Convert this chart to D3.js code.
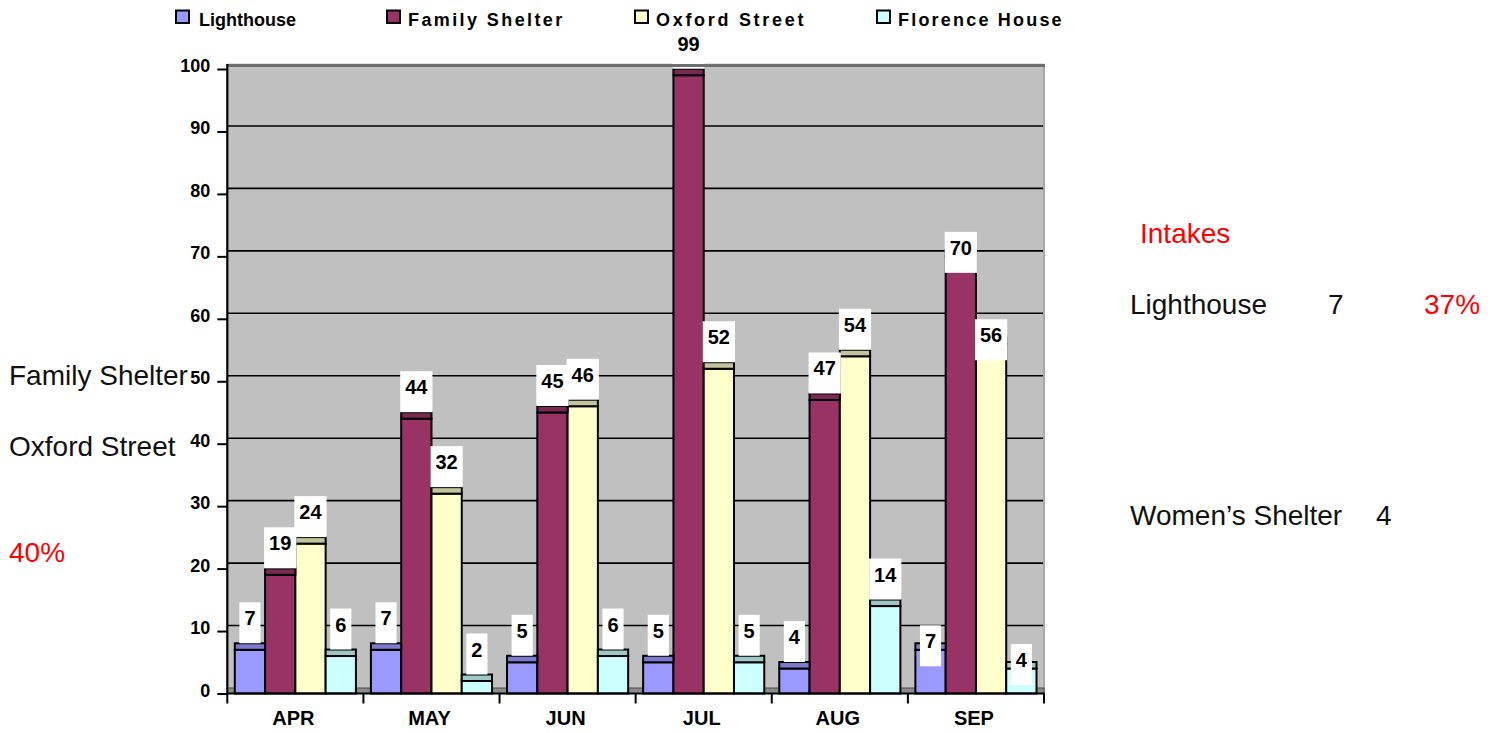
<!DOCTYPE html>
<html><head><meta charset="utf-8">
<script src="https://cdn.jsdelivr.net/npm/d3@7"></script>
<style>body{margin:0;background:#fff;} svg{display:block;}</style>
</head><body>
<svg id="chart" width="1499" height="733"></svg>
<script>
// ---- data ----
const months = ["APR","MAY","JUN","JUL","AUG","SEP"];
const seriesNames = ["Lighthouse","Family Shelter","Oxford Street","Florence House"];
const lighthouse = [7,7,5,5,4,7];
const familyShelter = [19,44,45,99,47,70];
const oxfordStreet = [24,32,46,52,54,56];
const florenceHouse = [6,2,6,5,14,4];
const yTickValues = [0,10,20,30,40,50,60,70,80,90,100];
const leftNotes = ["Family Shelter","Oxford Street","40%"];
const intakesTitle = "Intakes";
const intakeLabels = ["Lighthouse","Women’s Shelter"];
const intakeCounts = ["7","4"];
const intakeShares = ["37%",""];

// ---- styles / layout ----
const seriesValues = [lighthouse, familyShelter, oxfordStreet, florenceHouse];
const faceColors = ["#9999ff","#993366","#ffffcc","#ccffff"];
const capColors  = ["#7b7bd0","#7a2952","#c4c49c","#9cc8c8"];
const legendX = [176, 387, 635, 877];
const legendSpacing = [0, 2.4, 2.7, 2.2];
const backOffset = 5.5;   // 3D depth of the back wall
const capH = 6.5;         // 3D top of columns
const lastLabelDrop = 23; // labels of last month are drawn lower in the original

const svg = d3.select("#chart");
const FONT = "'Liberation Sans', Arial, sans-serif";
const NARROW = "'Liberation Sans Narrow', 'Arial Narrow', 'Liberation Sans', sans-serif";

const y = d3.scaleLinear().domain([0,100]).range([693.5, 69]);
const x0 = d3.scaleBand().domain(months).range([227.3, 1044]).padding(0);
const x1 = d3.scaleBand().domain(seriesNames).range([7.5, x0.bandwidth()-7.5]).padding(0);

const left = 227.3, right = 1044;

// back wall
svg.append("rect").attr("x", left).attr("y", y(100)-backOffset)
  .attr("width", right-left).attr("height", y(0)-y(100))
  .attr("fill", "#c0c0c0");

// gridlines on the back wall
svg.append("g").selectAll("line").data(yTickValues.filter(v => v>0 && v<100)).join("line")
  .attr("x1", left).attr("x2", right-1)
  .attr("y1", d => y(d)-backOffset).attr("y2", d => y(d)-backOffset)
  .attr("stroke", "#000").attr("stroke-width", 1.6);

// right border of wall
svg.append("line").attr("x1", right).attr("x2", right)
  .attr("y1", y(100)-3).attr("y2", y(0))
  .attr("stroke", "#a8a8a8").attr("stroke-width", 2);

// floor
svg.append("rect").attr("x", left).attr("y", y(0)-backOffset)
  .attr("width", right-left).attr("height", backOffset)
  .attr("fill", "#8c8c8c").attr("stroke", "#4a4a4a").attr("stroke-width", 1);

// bars
const barData = [];
months.forEach((m, i) => {
  seriesNames.forEach((s, j) => {
    barData.push({m, i, s, j, v: seriesValues[j][i]});
  });
});
const bars = svg.append("g");
bars.selectAll("rect.face").data(barData).join("rect").attr("class","face")
  .attr("x", d => x0(d.m) + x1(d.s)).attr("width", x1.bandwidth())
  .attr("y", d => y(d.v)).attr("height", d => y(0) - y(d.v))
  .attr("fill", d => faceColors[d.j]).attr("stroke", "#000").attr("stroke-width", 2);
bars.selectAll("rect.cap").data(barData).join("rect").attr("class","cap")
  .attr("x", d => x0(d.m) + x1(d.s)).attr("width", x1.bandwidth())
  .attr("y", d => y(d.v) - capH).attr("height", capH)
  .attr("fill", d => capColors[d.j]).attr("stroke", "#000").attr("stroke-width", 2);

// value axis
const yAxis = svg.append("g").attr("transform", `translate(${left},0)`)
  .call(d3.axisLeft(y).tickValues(yTickValues).tickSize(10).tickPadding(7).tickFormat(d3.format("d")));
yAxis.select(".domain").remove();
yAxis.selectAll(".tick line").attr("stroke", "#000").attr("stroke-width", 2);
yAxis.selectAll(".tick text").attr("dy", "2.5px")
  .style("font-family", FONT).style("font-size", "18px").style("font-weight", "bold").attr("fill", "#000");

// category axis
svg.append("line").attr("x1", left).attr("x2", right+1).attr("y1", y(0)).attr("y2", y(0))
  .attr("stroke", "#000").attr("stroke-width", 2);
const bounds = months.map(m => x0(m)).concat([right]);
svg.append("g").selectAll("line").data(bounds).join("line")
  .attr("x1", d => d).attr("x2", d => d).attr("y1", y(0)).attr("y2", y(0)+10)
  .attr("stroke", "#000").attr("stroke-width", 2);
const xAxis = svg.append("g").attr("transform", `translate(-2,${y(0)})`)
  .call(d3.axisBottom(x0).tickSize(0).tickPadding(17));
xAxis.select(".domain").remove();
xAxis.selectAll(".tick text").attr("dy", "0.71em")
  .style("font-family", NARROW).style("font-size", "20px").style("font-weight", "bold").attr("fill", "#000");

// data labels
const labels = svg.append("g").style("font-family", NARROW).style("font-size", "20px").style("font-weight", "bold");
barData.forEach(d => {
  const cx = x0(d.m) + x1(d.s) + x1.bandwidth()/2;
  const bottom = y(d.v) - capH + (d.i === months.length-1 ? lastLabelDrop : 0);
  const g = labels.append("g");
  const t = g.append("text").attr("x", cx).attr("y", bottom - 41 + 23)
    .attr("text-anchor", "middle").attr("fill", "#000").text(d.v);
  const w = t.node().getComputedTextLength() + 10;
  g.insert("rect", "text").attr("x", cx - w/2).attr("y", bottom - 41)
    .attr("width", w).attr("height", 41).attr("fill", "#fff");
});

// top border of wall and value axis line (drawn over labels)
svg.append("line").attr("x1", left).attr("x2", right+1)
  .attr("y1", y(100)-3.5).attr("y2", y(100)-3.5)
  .attr("stroke", "#6e6e6e").attr("stroke-width", 3);
svg.append("line").attr("x1", left).attr("x2", left).attr("y1", y(100)-5).attr("y2", y(0)+1)
  .attr("stroke", "#000").attr("stroke-width", 2.2);

// legend
const legend = svg.append("g");
seriesNames.forEach((s, j) => {
  legend.append("rect").attr("x", legendX[j]).attr("y", 10.5).attr("width", 13).attr("height", 12.5)
    .attr("fill", faceColors[j]).attr("stroke", "#000").attr("stroke-width", 2);
  legend.append("text").attr("x", legendX[j] + 22 + (j===0?1:-1)).attr("y", 25.5)
    .style("font-family", FONT).style("font-size", "18px").style("font-weight", "bold")
    .style("letter-spacing", legendSpacing[j] + "px").attr("fill", "#000").text(s);
});

// side notes
const notes = svg.append("g").style("font-family", FONT).style("font-size", "28px");
const leftY = [385, 455.5, 562];
leftNotes.forEach((t, k) => {
  notes.append("text").attr("x", 9).attr("y", leftY[k])
    .attr("fill", t.includes("%") ? "#ff0000" : "#111").text(t);
});
notes.append("text").attr("x", 1140).attr("y", 243).attr("fill", "#ff0000").text(intakesTitle);
const rowY = [314, 525];
const countX = [1328, 1376];
intakeLabels.forEach((t, k) => {
  notes.append("text").attr("x", 1130).attr("y", rowY[k]).attr("fill", "#111").text(t);
  notes.append("text").attr("x", countX[k]).attr("y", rowY[k]).attr("fill", "#111").text(intakeCounts[k]);
  if (intakeShares[k]) notes.append("text").attr("x", 1424).attr("y", rowY[k]).attr("fill", "#ff0000").text(intakeShares[k]);
});
</script>
</body></html>
